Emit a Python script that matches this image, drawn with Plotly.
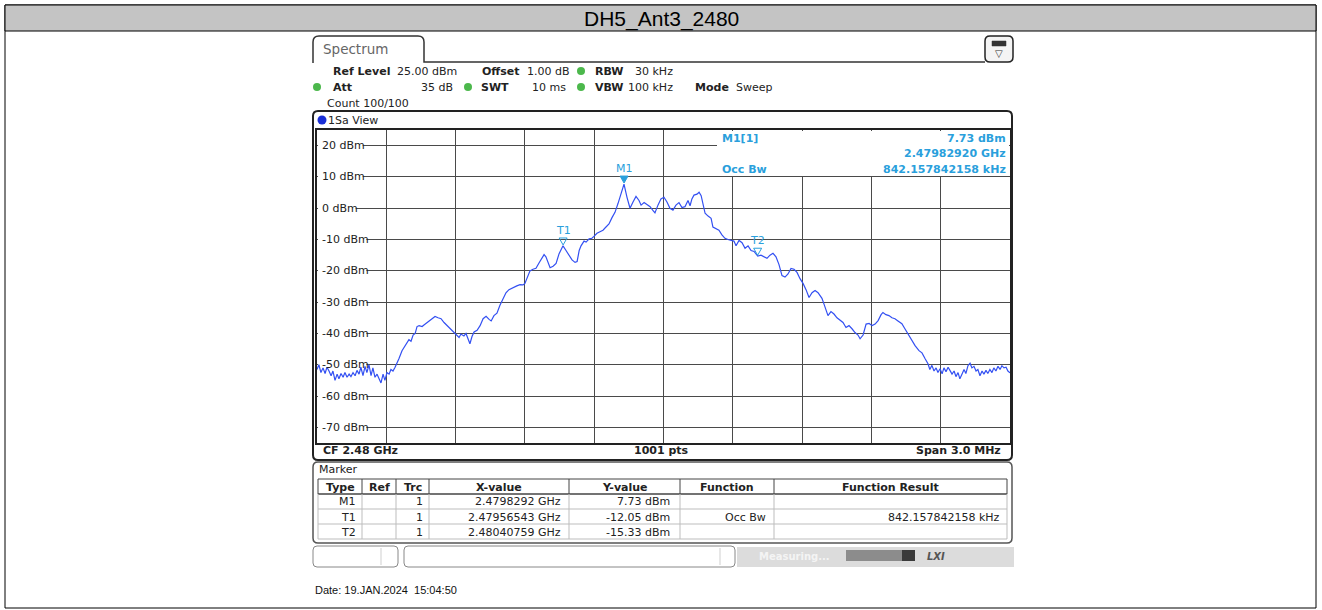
import plotly.graph_objects as go

# ---------------- data ----------------
title_text = "DH5_Ant3_2480"
center_mhz = 2480.0
span_mhz = 3.0
ref_level = 25.0
y_bottom = -75.0

freq_mhz = [
    2478.500, 2478.508, 2478.517, 2478.526, 2478.535, 2478.543, 2478.552, 2478.561, 2478.569, 2478.578,
    2478.587, 2478.595, 2478.604, 2478.613, 2478.621, 2478.630, 2478.639, 2478.647, 2478.656, 2478.665,
    2478.673, 2478.682, 2478.690, 2478.699, 2478.708, 2478.716, 2478.725, 2478.734, 2478.742, 2478.751,
    2478.760, 2478.768, 2478.777, 2478.786, 2478.794, 2478.803, 2478.812, 2478.820, 2478.829, 2478.838,
    2478.846, 2478.855, 2478.868, 2478.881, 2478.890, 2478.898, 2478.907, 2478.916, 2478.925, 2478.933,
    2478.942, 2478.955, 2478.963, 2478.976, 2478.985, 2478.998, 2479.011, 2479.024, 2479.037, 2479.050,
    2479.063, 2479.076, 2479.093, 2479.106, 2479.115, 2479.123, 2479.136, 2479.145, 2479.154, 2479.162,
    2479.171, 2479.180, 2479.193, 2479.206, 2479.219, 2479.232, 2479.245, 2479.254, 2479.266, 2479.279,
    2479.292, 2479.305, 2479.318, 2479.331, 2479.348, 2479.365, 2479.379, 2479.392, 2479.400, 2479.413,
    2479.422, 2479.435, 2479.448, 2479.461, 2479.474, 2479.483, 2479.491, 2479.500, 2479.509, 2479.522,
    2479.535, 2479.548, 2479.565, 2479.578, 2479.591, 2479.604, 2479.617, 2479.626, 2479.635, 2479.643,
    2479.656, 2479.665, 2479.678, 2479.690, 2479.699, 2479.712, 2479.725, 2479.738, 2479.751, 2479.764,
    2479.777, 2479.790, 2479.803, 2479.816, 2479.829, 2479.842, 2479.855, 2479.868, 2479.881, 2479.894,
    2479.903, 2479.916, 2479.929, 2479.942, 2479.955, 2479.963, 2479.976, 2479.989, 2480.002, 2480.015,
    2480.028, 2480.041, 2480.054, 2480.067, 2480.080, 2480.093, 2480.106, 2480.115, 2480.123, 2480.132,
    2480.145, 2480.154, 2480.163, 2480.171, 2480.180, 2480.193, 2480.206, 2480.214, 2480.227, 2480.240,
    2480.253, 2480.266, 2480.279, 2480.292, 2480.305, 2480.314, 2480.327, 2480.340, 2480.353, 2480.366,
    2480.379, 2480.392, 2480.408, 2480.422, 2480.435, 2480.448, 2480.461, 2480.474, 2480.487, 2480.500,
    2480.513, 2480.526, 2480.539, 2480.552, 2480.565, 2480.578, 2480.591, 2480.604, 2480.617, 2480.630,
    2480.643, 2480.656, 2480.669, 2480.686, 2480.699, 2480.712, 2480.725, 2480.738, 2480.751, 2480.764,
    2480.777, 2480.790, 2480.803, 2480.816, 2480.829, 2480.842, 2480.851, 2480.864, 2480.877, 2480.890,
    2480.903, 2480.916, 2480.929, 2480.942, 2480.950, 2480.963, 2480.976, 2480.989, 2481.002, 2481.015,
    2481.032, 2481.045, 2481.058, 2481.071, 2481.089, 2481.106, 2481.119, 2481.132, 2481.145, 2481.153,
    2481.162, 2481.171, 2481.180, 2481.188, 2481.197, 2481.206, 2481.214, 2481.223, 2481.232, 2481.240,
    2481.249, 2481.258, 2481.266, 2481.275, 2481.283, 2481.292, 2481.301, 2481.309, 2481.318, 2481.327,
    2481.335, 2481.344, 2481.353, 2481.361, 2481.370, 2481.379, 2481.387, 2481.396, 2481.404, 2481.413,
    2481.422, 2481.430, 2481.439, 2481.448, 2481.457, 2481.465, 2481.474, 2481.483, 2481.491, 2481.500,
]
level_dbm = [
    -51.5, -50.0, -52.5, -51.0, -52.8, -50.8, -52.0, -53.5, -52.0, -55.0,
    -53.0, -54.5, -52.8, -54.0, -52.5, -54.0, -53.0, -53.8, -52.5, -53.5,
    -51.8, -53.0, -50.8, -53.5, -50.5, -52.5, -50.0, -53.5, -51.0, -54.0,
    -53.0, -54.5, -55.8, -53.0, -55.0, -52.5, -53.0, -51.5, -52.0, -50.8,
    -49.7, -48.0, -45.5, -44.0, -43.3, -42.0, -42.5, -40.5, -40.0, -37.8,
    -37.5, -37.8, -37.3, -36.5, -36.0, -35.3, -34.6, -35.0, -35.3, -36.5,
    -37.5, -38.5, -39.7, -40.5, -41.3, -40.2, -40.8, -40.0, -42.0, -43.3,
    -41.0, -39.5, -39.0, -37.5, -35.3, -34.5, -35.5, -36.0, -34.3, -33.5,
    -31.0, -29.0, -27.0, -26.0, -25.3, -24.8, -24.4, -24.5, -24.0, -21.5,
    -20.0, -19.5, -19.2, -17.5, -15.7, -14.8, -15.5, -17.5, -19.0, -18.5,
    -17.6, -14.5, -12.0, -13.5, -15.0, -16.5, -17.3, -17.0, -13.5, -12.0,
    -10.5, -10.8, -9.8, -9.6, -9.0, -8.0, -7.5, -7.0, -6.0, -5.0,
    -3.0, -1.3, 1.5, 5.0, 7.73, 3.5, 0.0, 2.0, 3.8, 2.5,
    1.0, 1.8, 1.2, 0.5, -0.8, -1.5, 1.0, 3.0, 3.5, 2.0,
    0.0, -0.6, 1.0, 1.8, 0.2, 0.5, 2.5, 0.8, 3.0, 4.2,
    4.5, 5.1, 4.0, 1.0, -1.6, -2.5, -3.2, -6.0, -6.5, -7.0,
    -8.5, -9.6, -10.0, -10.3, -10.5, -12.0, -10.3, -11.0, -12.8, -12.0,
    -13.5, -13.8, -15.3, -15.0, -15.5, -16.0, -15.0, -14.4, -15.5, -18.0,
    -21.5, -22.0, -21.0, -19.2, -19.5, -20.5, -22.5, -24.0, -26.0, -28.5,
    -27.0, -26.3, -27.0, -28.8, -31.5, -34.3, -33.0, -33.8, -35.0, -35.9,
    -36.5, -38.1, -37.5, -38.5, -39.7, -40.5, -41.7, -40.5, -37.0, -36.8,
    -37.5, -37.0, -35.9, -34.0, -33.3, -34.0, -34.3, -35.0, -35.3, -36.0,
    -36.9, -38.5, -40.1, -41.5, -43.9, -45.5, -46.2, -48.0, -49.7, -51.5,
    -50.2, -52.0, -51.0, -52.5, -51.3, -52.9, -51.0, -52.2, -50.8, -51.8,
    -53.0, -52.0, -53.8, -52.5, -54.5, -53.0, -51.5, -52.8, -50.3, -49.5,
    -51.0, -50.5, -52.0, -51.5, -53.5, -52.0, -53.0, -51.8, -52.8, -51.5,
    -52.5, -51.0, -52.0, -50.5, -51.5, -50.3, -51.0, -50.8, -52.0, -52.6,
]

marker_names = ["M1", "T1", "T2"]
marker_freq_ghz = [2.4798292, 2.47956543, 2.48040759]
marker_level_dbm = [7.73, -12.05, -15.33]
marker_x_text = ["2.4798292 GHz", "2.47956543 GHz", "2.48040759 GHz"]
marker_y_text = ["7.73 dBm", "-12.05 dBm", "-15.33 dBm"]
marker_func = ["", "Occ Bw", ""]
marker_func_result = ["", "842.157842158 kHz", ""]
y_tick_values = [20, 10, 0, -10, -20, -30, -40, -50, -60, -70]

# ---------------- geometry helpers (pixel -> paper / data) ----------------
W, H = 1322, 610
L, R, T, B = 317, 1010, 130, 443
X_LO = center_mhz - span_mhz / 2


def X(px):
    return (px - L) / (R - L)


def Y(py):
    return (B - py) / (B - T)


def XD(px):
    return X_LO + (px - L) / (R - L) * span_mhz


def YD(py):
    return ref_level - (py - T) / (B - T) * (ref_level - y_bottom)


FONT = "DejaVu Sans"
BLUE_TXT = "#2a9fdc"
TRACE = "#3350f2"

fig = go.Figure()
fig.add_trace(go.Scatter(x=freq_mhz, y=level_dbm, mode="lines",
                         line=dict(color=TRACE, width=1.2), hoverinfo="skip",
                         showlegend=False))

shapes = []
ann = []


def rect(x0, y0, x1, y1, fill="rgba(0,0,0,0)", line="#000", lw=1, layer="above"):
    shapes.append(dict(type="rect", xref="paper", yref="paper", x0=X(x0), x1=X(x1),
                       y0=Y(y1), y1=Y(y0), fillcolor=fill,
                       line=dict(color=line, width=lw), layer=layer))


def cover(x0, y0, x1, y1):
    # white patch between grid lines and trace (axis-referenced)
    shapes.append(dict(type="rect", xref="x", yref="y", x0=XD(x0), x1=XD(x1),
                       y0=YD(y1), y1=YD(y0), fillcolor="white", line=dict(width=0),
                       layer="between"))


def hline(x0, x1, y, color="#000", lw=1):
    shapes.append(dict(type="line", xref="paper", yref="paper", x0=X(x0), x1=X(x1),
                       y0=Y(y), y1=Y(y), line=dict(color=color, width=lw)))


def vline(x, y0, y1, color="#000", lw=1):
    shapes.append(dict(type="line", xref="paper", yref="paper", x0=X(x), x1=X(x),
                       y0=Y(y0), y1=Y(y1), line=dict(color=color, width=lw)))


def rrect(x0, y0, x1, y1, r, line="#000", lw=1, fill="rgba(0,0,0,0)"):
    def p(a, b):
        return f"{X(a)},{Y(b)}"
    path = (f"M {p(x0 + r, y0)} L {p(x1 - r, y0)} Q {p(x1, y0)} {p(x1, y0 + r)} "
            f"L {p(x1, y1 - r)} Q {p(x1, y1)} {p(x1 - r, y1)} L {p(x0 + r, y1)} "
            f"Q {p(x0, y1)} {p(x0, y1 - r)} L {p(x0, y0 + r)} Q {p(x0, y0)} {p(x0 + r, y0)} Z")
    shapes.append(dict(type="path", xref="paper", yref="paper", path=path,
                       line=dict(color=line, width=lw), fillcolor=fill))


def dot(cx, cy, r, color):
    shapes.append(dict(type="circle", xref="paper", yref="paper", x0=X(cx - r), x1=X(cx + r),
                       y0=Y(cy + r), y1=Y(cy - r), fillcolor=color, line=dict(width=0)))


def text(s, x, y, anchor="left", size=11, color="#222", bold=False, family=FONT):
    if bold:
        s = f"<b>{s}</b>"
    ann.append(dict(text=s, x=X(x), y=Y(y), xref="paper", yref="paper", xanchor=anchor,
                    yanchor="middle", showarrow=False,
                    font=dict(family=family, size=size, color=color)))


# ---------------- outer page frame and title ----------------
rect(5, 5, 1316, 608, line="#000", lw=1)
rect(5, 5, 1316, 31, fill="#c4c4c4", line="#000", lw=1)
text(title_text, 661, 18.5, anchor="center", size=21, color="#000", family="Liberation Sans")

# ---------------- Spectrum tab ----------------
tab_path = (f"M {X(313)},{Y(63)} L {X(313)},{Y(42)} Q {X(313)},{Y(36)} {X(319)},{Y(36)} "
            f"L {X(418)},{Y(36)} Q {X(424)},{Y(36)} {X(424)},{Y(42)} L {X(424)},{Y(62)} "
            f"L {X(985)},{Y(62)}")
shapes.append(dict(type="path", xref="paper", yref="paper", path=tab_path,
                   line=dict(color="#333", width=1.5)))
text("Spectrum", 321, 49, size=13.5, color="#666")
rrect(985, 36, 1013, 62, 5, line="#222", lw=1.5, fill="#f4f4f4")
rect(992, 41, 1006, 46, fill="#333", line="#333", lw=0.5)
text("▽", 999, 53, anchor="center", size=10, color="#333")

# ---------------- header settings ----------------
GREEN = "#4cb84c"
text("Ref Level", 331, 71, bold=True)
text("25.00 dBm", 395, 71)
text("Offset", 480, 71, bold=True)
text("1.00 dB", 525, 71)
dot(581, 71, 4, GREEN)
text("RBW", 593, 71, bold=True)
text("30 kHz", 675, 71, anchor="right")
dot(317, 87, 4, GREEN)
text("Att", 331, 87, bold=True)
text("35 dB", 455, 87, anchor="right")
dot(468, 87, 4, GREEN)
text("SWT", 479, 87, bold=True)
text("10 ms", 568, 87, anchor="right")
dot(581, 87, 4, GREEN)
text("VBW", 593, 87, bold=True)
text("100 kHz", 675, 87, anchor="right")
text("Mode", 693, 87, bold=True)
text("Sweep", 734, 87)
text("Count 100/100", 325, 103)

# ---------------- diagram box ----------------
rrect(313, 111, 1012, 460, 5, line="#222", lw=2)
dot(322, 120, 4.5, "#1a2fd6")
text("1Sa View", 326, 120)

# white cover for the marker info area
cover(717, 131, 1009, 176)

# y labels, with a white patch hiding the grid under the text
char_w = {"-": 3.7, " ": 3.5, "d": 7.0, "B": 7.5, "m": 10.7}
for v in y_tick_values:
    lab = f"{v} dBm"
    w = sum(char_w.get(c, 7.0) for c in lab)
    py = B - (v - y_bottom) / (ref_level - y_bottom) * (B - T)
    cover(318, py - 3, 320 + w, py + 3)
    ann.append(dict(text=lab, x=X(320), y=v, xref="paper", yref="y", xanchor="left",
                    yanchor="middle", showarrow=False,
                    font=dict(family=FONT, size=11, color="#222")))

# marker info text
text("M1[1]", 720, 138, bold=True, color=BLUE_TXT)
text("7.73 dBm", 1008, 138, anchor="right", bold=True, color=BLUE_TXT)
text("2.47982920 GHz", 1008, 153, anchor="right", bold=True, color=BLUE_TXT)
text("Occ Bw", 720, 169, bold=True, color=BLUE_TXT)
text("842.157842158 kHz", 1008, 169, anchor="right", bold=True, color=BLUE_TXT)

# markers on trace
for name, fg, lv in zip(marker_names, marker_freq_ghz, marker_level_dbm):
    fx = fg * 1000.0
    filled = name.startswith("M")
    shapes.append(dict(type="path", xref="x", yref="y", xsizemode="pixel", ysizemode="pixel",
                       xanchor=fx, yanchor=lv, path="M -4,8 L 4,8 L 0,1 Z",
                       fillcolor=BLUE_TXT if filled else "rgba(0,0,0,0)",
                       line=dict(color=BLUE_TXT, width=1)))
    ann.append(dict(text=name, x=fx, y=lv, xref="x", yref="y", xanchor="center",
                    yanchor="bottom", yshift=7, showarrow=False,
                    font=dict(family=FONT, size=11, color=BLUE_TXT)))

# bottom bar of diagram
text("CF 2.48 GHz", 321, 451, bold=True)
text("1001 pts", 661, 451, anchor="center", bold=True)
text("Span 3.0 MHz", 1003, 451, anchor="right", bold=True)

# ---------------- marker table ----------------
rrect(313, 462, 1012, 543, 5, line="#555", lw=1.5)
text("Marker", 317, 470)
cols = [318, 362, 396, 429, 569, 680, 774, 1007]
hline(318, 1007, 479, color="#444", lw=1)
hline(318, 1007, 494, color="#444", lw=1.5)
for ry in (509, 524, 539):
    hline(318, 1007, ry, color="#bdbdbd", lw=1)
for cx in cols:
    vline(cx, 479, 494, color="#444", lw=1)
    vline(cx, 494, 539, color="#bdbdbd", lw=1)
headers = ["Type", "Ref", "Trc", "X-value", "Y-value", "Function", "Function Result"]
for i, hd in enumerate(headers):
    text(hd, (cols[i] + cols[i + 1]) / 2, 487, anchor="center", bold=True)
for j in range(len(marker_names)):
    ry = 502 + 15 * j
    text(marker_names[j], cols[1] - 4, ry, anchor="right")
    text("1", cols[3] - 4, ry, anchor="right")
    text(marker_x_text[j], cols[4] - 6, ry, anchor="right")
    text(marker_y_text[j], cols[5] - 8, ry, anchor="right")
    if marker_func[j]:
        text(marker_func[j], cols[6] - 6, ry, anchor="right")
        text(marker_func_result[j], cols[7] - 5, ry, anchor="right")

# ---------------- status bar ----------------
rrect(313, 546, 398, 567, 4, line="#888", lw=1)
vline(381, 548, 565, color="#cfcfcf")
rrect(404, 546, 735, 567, 4, line="#888", lw=1)
vline(720, 548, 565, color="#cfcfcf")
rect(737, 547, 1014, 567, fill="#dcdcdc", line="#dcdcdc", lw=0)
text("Measuring...", 757, 556, size=10, color="#f4f4f4", bold=True)
rect(846, 550, 902, 561, fill="#8c8c8c", line="#8c8c8c", lw=0)
rect(902, 550, 915, 561, fill="#3a3a3a", line="#3a3a3a", lw=0)
text("<i>LXI</i>", 925, 556, size=10, color="#555", bold=True)

# ---------------- date ----------------
text("Date: 19.JAN.2024\u00a0\u00a015:04:50", 313, 590, size=11, color="#111",
     family="Liberation Sans")

fig.update_layout(
    width=W, height=H,
    margin=dict(l=L, r=W - R, t=T, b=H - B),
    paper_bgcolor="white", plot_bgcolor="white",
    shapes=shapes, annotations=ann, showlegend=False,
    xaxis=dict(range=[X_LO, X_LO + span_mhz],
               tick0=X_LO, dtick=span_mhz / 10,
               showgrid=True, gridcolor="#4a4a4a", gridwidth=1.2,
               showticklabels=False, ticks="", zeroline=False,
               showline=True, mirror=True, linecolor="#222", linewidth=1.5),
    yaxis=dict(range=[y_bottom, ref_level], tick0=-70, dtick=10,
               showgrid=True, gridcolor="#4a4a4a", gridwidth=1.2,
               showticklabels=False, ticks="", zeroline=False,
               showline=True, mirror=True, linecolor="#222", linewidth=1.5),
)

fig.write_html("out.html", config={"displayModeBar": False},
               post_script="document.body.style.margin='0';document.body.style.overflow='hidden';")
